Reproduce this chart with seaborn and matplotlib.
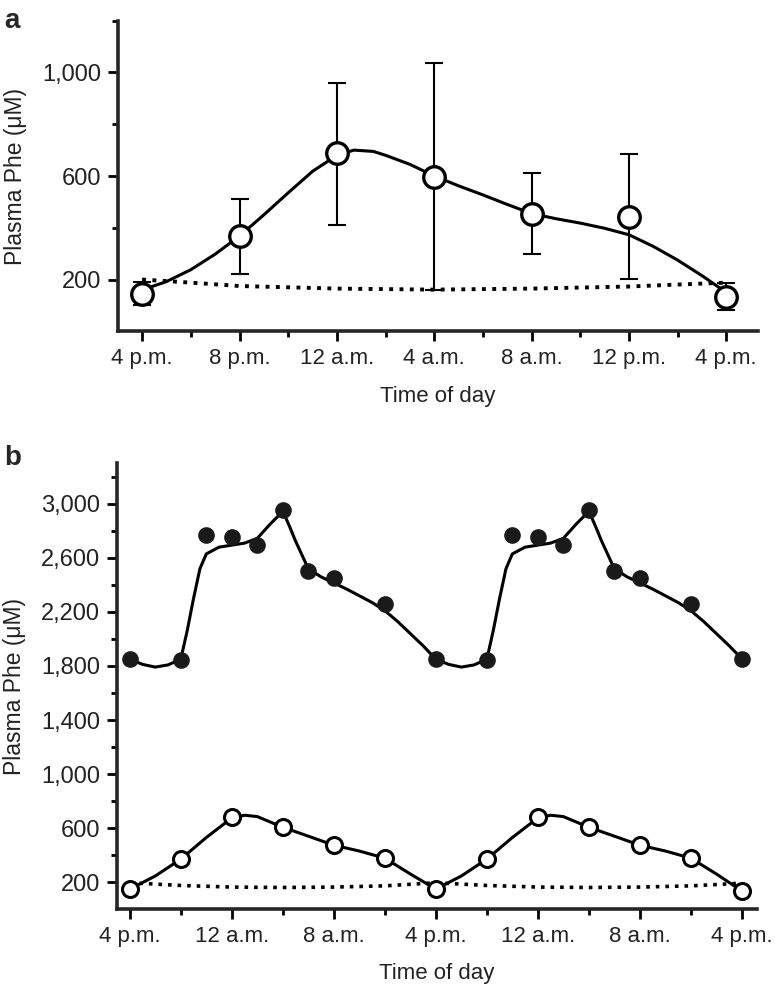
import numpy as np
import pandas as pd
import matplotlib
matplotlib.use("Agg")
import matplotlib.pyplot as plt
from matplotlib.ticker import FixedLocator
import seaborn as sns

# ---- panel a : mean plasma Phe over one day (hours after 4 p.m.)
hours_a = [0, 4, 8, 12, 16, 20, 24]
phe_a = [145, 368, 687, 598, 453, 442, 134]
err_lo_a = [100, 220, 411, 158, 297, 203, 83]
err_hi_a = [190, 512, 960, 1035, 610, 684, 185]

# fitted curve
fit_hours_a = [0, 1, 2, 3, 4, 5, 6, 7, 8, 8.7, 9.5, 10, 11, 12, 13, 14, 15, 16,
               17, 18, 19, 20, 21, 22, 23, 24]
fit_phe_a = [160, 192, 238, 298, 368, 450, 535, 618, 680, 700, 695, 680, 645, 600,
             562, 527, 490, 455, 435, 418, 398, 373, 328, 275, 215, 150]

# dotted reference line
dot_hours_a = [0, 2, 4, 8, 12, 16, 20, 24]
dot_phe_a = [200, 188, 175, 165, 161, 165, 173, 188]

ticks_a = [0, 4, 8, 12, 16, 20, 24]
tick_labels_a = ["4 p.m.", "8 p.m.", "12 a.m.", "4 a.m.", "8 a.m.", "12 p.m.", "4 p.m."]

open_hours_b = [0, 4, 8, 12, 16, 20]
open_phe_b = [148, 370, 680, 606, 473, 377]
open_end_b = 134

fit_open_hours_b = [0, 2, 4, 6, 8, 9, 10, 12, 14, 16, 18, 20, 22]
fit_open_phe_b = [148, 245, 370, 530, 675, 695, 685, 606, 540, 473, 430, 377, 260]

filled_hours_b = [0, 4, 6, 8, 10, 12, 14, 16, 20]
filled_phe_b = [1853, 1848, 2770, 2755, 2695, 2955, 2505, 2450, 2260]
filled_end_b = 1853

fit_filled_hours_b = [0, 1, 2, 3, 4, 4.5, 5, 5.5, 6, 7, 8, 9, 10, 11, 12, 12.5, 13, 14,
                      15, 16, 17, 18, 19, 20, 21, 22, 23]
fit_filled_phe_b = [1850, 1812, 1792, 1808, 1850, 2060, 2300, 2520, 2630, 2680, 2695,
                    2710, 2745, 2850, 2945, 2840, 2725, 2520, 2460, 2415, 2370, 2320,
                    2270, 2210, 2130, 2040, 1950]

dot_hours_b = [0, 4, 8, 12, 16, 20]
dot_phe_b = [195, 175, 163, 160, 163, 172]
dot_end_b = 192

ticks_b = [0, 8, 16, 24, 32, 40, 48]
tick_labels_b = ["4 p.m.", "12 a.m.", "8 a.m.", "4 p.m.", "12 a.m.", "8 a.m.", "4 p.m."]


def two_days(h, v, end):
    h = list(h) + [x + 24 for x in h] + [48]
    v = list(v) + list(v) + [end]
    return h, v


sns.set_style("ticks")
plt.rcParams["font.family"] = ["Liberation Sans", "DejaVu Sans"]
plt.rcParams["font.size"] = 16

fig = plt.figure(figsize=(7.75, 9.86), dpi=100)
ax_a = fig.add_axes([0.152, 0.664, 0.826, 0.315])
ax_b = fig.add_axes([0.151, 0.078, 0.826, 0.452])

lw = 2.2

# panel a
sns.lineplot(x=dot_hours_a, y=dot_phe_a, ax=ax_a, color="black", lw=2.8,
             linestyle=":", zorder=1)
sns.lineplot(x=fit_hours_a, y=fit_phe_a, ax=ax_a, color="black", lw=lw, zorder=2)
phe = np.array(phe_a)
ax_a.errorbar(hours_a, phe, yerr=[phe - np.array(err_lo_a), np.array(err_hi_a) - phe],
              fmt="none", ecolor="black", elinewidth=1.5, capsize=6.5, capthick=1.5,
              zorder=2)
ax_a.plot(hours_a, phe_a, "o", ms=15.5, mfc="white", mec="black", mew=2.4, zorder=3)

ax_a.set_xlim(-1, 25.3)
ax_a.set_ylim(0, 1200)
ax_a.set_xticks(ticks_a)
ax_a.set_xticklabels(tick_labels_a)
ax_a.xaxis.set_minor_locator(FixedLocator([2, 6, 10, 14, 18, 22]))
ax_a.set_yticks([200, 600, 1000])
ax_a.set_yticklabels(["200", "600", "1,000"])
ax_a.yaxis.set_minor_locator(FixedLocator([400, 800, 1200]))

# panel b
h, v = two_days(dot_hours_b, dot_phe_b, dot_end_b)
sns.lineplot(x=h, y=v, ax=ax_b, color="black", lw=2.6, linestyle=":", zorder=1)
h, v = two_days(fit_open_hours_b, fit_open_phe_b, open_end_b)
sns.lineplot(x=h, y=v, ax=ax_b, color="black", lw=lw, zorder=2)
h, v = two_days(fit_filled_hours_b, fit_filled_phe_b, filled_end_b)
sns.lineplot(x=h, y=v, ax=ax_b, color="black", lw=lw, zorder=2)
h, v = two_days(open_hours_b, open_phe_b, open_end_b)
ax_b.plot(h, v, "o", ms=11.5, mfc="white", mec="black", mew=2.2, zorder=3)
h, v = two_days(filled_hours_b, filled_phe_b, filled_end_b)
ax_b.plot(h, v, "o", ms=12, mfc="#1a1a1a", mec="#1a1a1a", mew=0, zorder=3)

ax_b.set_xlim(-1, 49.2)
ax_b.set_ylim(0, 3300)
ax_b.set_xticks(ticks_b)
ax_b.set_xticklabels(tick_labels_b)
ax_b.xaxis.set_minor_locator(FixedLocator([4, 12, 20, 28, 36, 44]))
yt_b = [200, 600, 1000, 1400, 1800, 2200, 2600, 3000]
ax_b.set_yticks(yt_b)
ax_b.set_yticklabels([f"{t:,}" for t in yt_b])
ax_b.yaxis.set_minor_locator(FixedLocator([400, 800, 1200, 1600, 2000, 2400, 2800, 3200]))

for ax in (ax_a, ax_b):
    sns.despine(ax=ax)
    ax.spines["left"].set_linewidth(2.6)
    ax.spines["bottom"].set_linewidth(2.6)
    ax.tick_params(which="major", length=7, width=2, pad=5, color="black")
    ax.tick_params(axis="y", which="major", labelsize=17)
    ax.tick_params(axis="x", which="major", labelsize=16)
    ax.tick_params(which="minor", length=4.5, width=2, color="black")
    ax.set_ylabel("Plasma Phe (\u03bcM)", fontsize=16.5, color="#222222")
    ax.set_xlabel("Time of day", fontsize=16, color="#222222")
    ax.yaxis.set_label_coords(-0.142, 0.5)
    for lab in ax.get_xticklabels() + ax.get_yticklabels():
        lab.set_color("#222222")

ax_a.xaxis.set_label_coords(0.5, -0.175)
ax_b.xaxis.set_label_coords(0.5, -0.122)

fig.text(0.005, 0.979, "a", fontsize=20, fontweight="bold", va="center")
fig.text(0.005, 0.535, "b", fontsize=20, fontweight="bold", va="center")

fig.savefig("out.png", dpi=100)
